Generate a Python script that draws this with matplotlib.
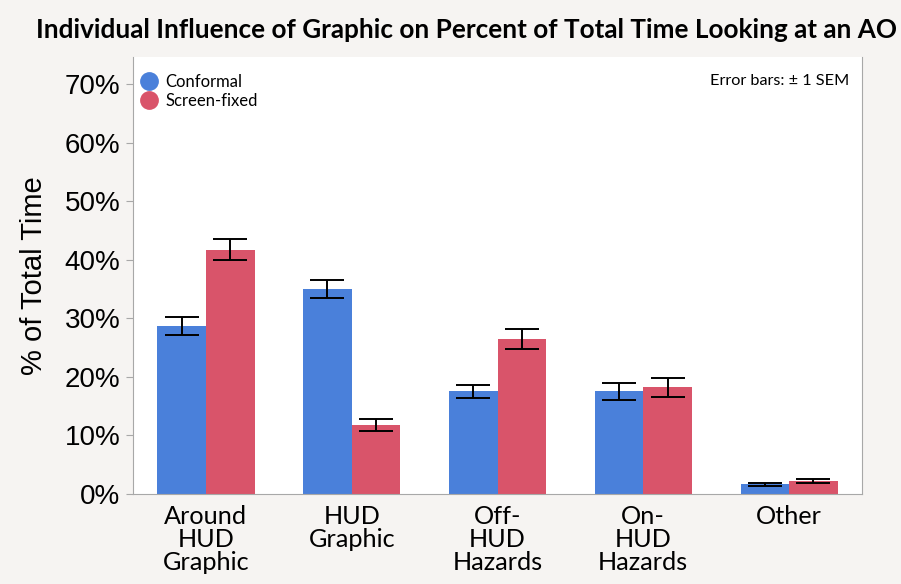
import matplotlib
matplotlib.use("Agg")
import matplotlib.pyplot as plt
from matplotlib.ticker import PercentFormatter
from matplotlib.lines import Line2D
import numpy as np

# values (percent of total time)
categories = ["Around\nHUD\nGraphic", "HUD\nGraphic", "Off-\nHUD\nHazards", "On-\nHUD\nHazards", "Other"]
conformal = [28.7, 35.0, 17.5, 17.5, 1.7]
conformal_sem = [1.6, 1.5, 1.05, 1.5, 0.25]
screen_fixed = [41.7, 11.8, 26.5, 18.2, 2.2]
screen_fixed_sem = [1.8, 1.05, 1.7, 1.6, 0.3]
yticks = [0, 10, 20, 30, 40, 50, 60, 70]

BLUE = "#4A80DA"
RED = "#D9546A"
BG = "#F6F4F2"
SPINE = "#A8A8A8"

fig = plt.figure(figsize=(9.01, 5.84), dpi=100, facecolor=BG)
ax = fig.add_axes([133 / 901, 1 - 494 / 584, (862 - 133) / 901, (494 - 57) / 584])
ax.set_facecolor("white")

x = np.arange(len(categories))
w = 1 / 3
err_kw = dict(ecolor="black", elinewidth=1.4, capsize=12, capthick=1.4)
ax.bar(x - w / 2, conformal, w, color=BLUE, yerr=conformal_sem, error_kw=err_kw, zorder=2)
ax.bar(x + w / 2, screen_fixed, w, color=RED, yerr=screen_fixed_sem, error_kw=err_kw, zorder=2)

ax.set_xlim(-0.5, 4.5)
ax.set_ylim(0, 74.6)
ax.set_yticks(yticks)
ax.yaxis.set_major_formatter(PercentFormatter(decimals=0))
ax.tick_params(axis="y", labelsize=20, length=5, color=SPINE, pad=4)
for lbl in ax.get_yticklabels():
    lbl.set_fontfamily("Liberation Sans")
ax.set_xticks(x)
ax.set_xticklabels(categories, fontsize=18.2, fontfamily="Lato", linespacing=1.0)
ax.tick_params(axis="x", length=0, pad=8)

for side in ["left", "bottom", "right"]:
    ax.spines[side].set_color(SPINE)
ax.spines["top"].set_visible(False)

ax.set_ylabel("% of Total Time", fontsize=21, fontfamily="Liberation Sans", labelpad=12)

handles = [
    Line2D([], [], marker="o", linestyle="", markersize=12.5, color=BLUE, label="Conformal"),
    Line2D([], [], marker="o", linestyle="", markersize=12.5, color=RED, label="Screen-fixed"),
]
leg = ax.legend(handles=handles, loc="upper left", bbox_to_anchor=(141 / 901, 1 - 74 / 584),
                bbox_transform=fig.transFigure, frameon=False, prop={"family": "Lato", "size": 12},
                handlelength=1.0, handletextpad=0.45, labelspacing=0.18, borderaxespad=0, borderpad=0)

ax.text(0.982, (494 - 81) / 437, "Error bars: \u00b1 1 SEM", transform=ax.transAxes, ha="right", va="center",
        fontsize=11.7, fontfamily="Lato")

fig.text(467 / 901, 1 - 30 / 584, "Individual Influence of Graphic on Percent of Total Time Looking at an AO",
         ha="center", va="center", fontsize=18.8, fontweight="bold", fontfamily="Lato")

fig.savefig("out.png", dpi=100, facecolor=BG)
